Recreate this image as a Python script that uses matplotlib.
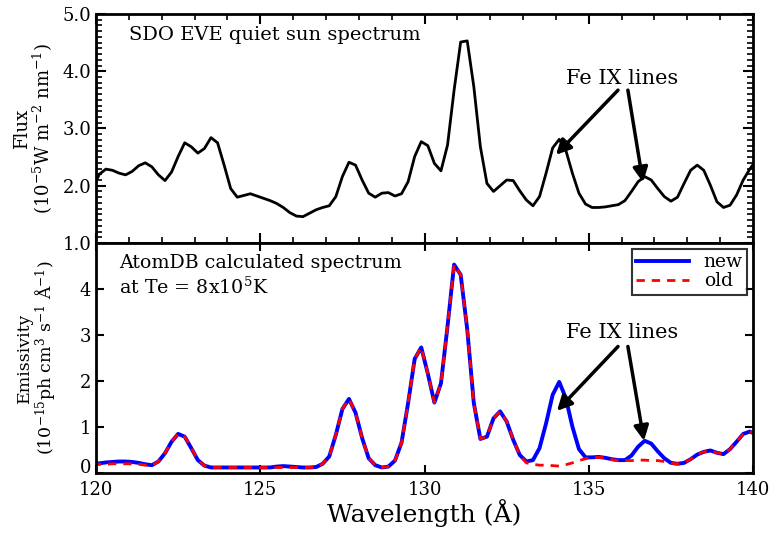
import numpy as np
import matplotlib
matplotlib.use('Agg')
import matplotlib.pyplot as plt
from matplotlib.ticker import MultipleLocator

plt.rcParams['font.family'] = 'DejaVu Serif'
plt.rcParams['mathtext.fontset'] = 'dejavuserif'

# wavelength grid (Angstrom), 0.2 A steps
wave = np.round(np.arange(119.9, 140.15, 0.2), 1)

# SDO EVE quiet sun flux (1e-5 W m-2 nm-1)
flux = [1.95, 2.20, 2.29, 2.27, 2.22, 2.19, 2.25, 2.35, 2.40, 2.33,
        2.19, 2.09, 2.24, 2.51, 2.75, 2.68, 2.57, 2.65, 2.84, 2.75,
        2.36, 1.95, 1.80, 1.83, 1.86, 1.82, 1.78, 1.74, 1.69, 1.62,
        1.53, 1.47, 1.46, 1.52, 1.58, 1.62, 1.65, 1.81, 2.16, 2.41,
        2.36, 2.10, 1.87, 1.80, 1.87, 1.88, 1.82, 1.86, 2.07, 2.51,
        2.77, 2.70, 2.39, 2.26, 2.71, 3.67, 4.51, 4.53, 3.73, 2.68,
        2.04, 1.90, 2.00, 2.10, 2.09, 1.91, 1.75, 1.65, 1.81, 2.22,
        2.66, 2.81, 2.62, 2.22, 1.87, 1.68, 1.62, 1.62, 1.63, 1.65,
        1.67, 1.74, 1.90, 2.07, 2.16, 2.10, 1.95, 1.81, 1.73, 1.80,
        2.04, 2.27, 2.36, 2.27, 2.01, 1.72, 1.62, 1.66, 1.84, 2.10,
        2.29, 2.45]

# AtomDB emissivity (1e-15 ph cm3 s-1 A-1)
emis_new = [0.20, 0.21, 0.23, 0.24, 0.25, 0.25, 0.24, 0.22, 0.19, 0.17,
            0.25, 0.43, 0.68, 0.85, 0.79, 0.54, 0.28, 0.16, 0.12, 0.12,
            0.12, 0.12, 0.12, 0.12, 0.12, 0.12, 0.12, 0.12, 0.14, 0.15,
            0.14, 0.13, 0.12, 0.12, 0.13, 0.20, 0.36, 0.83, 1.39,
            1.61, 1.31, 0.76, 0.32, 0.17, 0.12, 0.14, 0.27, 0.66, 1.52,
            2.48, 2.73, 2.16, 1.53, 1.95, 3.19, 4.53, 4.31, 3.12, 1.52,
            0.74, 0.79, 1.19, 1.34, 1.12, 0.72, 0.39, 0.25, 0.28, 0.54,
            1.08, 1.70, 1.98, 1.63, 1.01, 0.52, 0.34, 0.34, 0.35, 0.33,
            0.30, 0.28, 0.28, 0.38, 0.57, 0.70, 0.64, 0.47, 0.32, 0.22,
            0.20, 0.22, 0.30, 0.40, 0.46, 0.49, 0.44, 0.41, 0.52, 0.68,
            0.85, 0.90, 0.84]
emis_old = [0.18, 0.19, 0.19, 0.20, 0.20, 0.20, 0.20, 0.19, 0.17, 0.16,
            0.25, 0.43, 0.68, 0.85, 0.79, 0.54, 0.28, 0.16, 0.12, 0.12,
            0.12, 0.12, 0.12, 0.12, 0.12, 0.12, 0.12, 0.12, 0.12, 0.12,
            0.12, 0.12, 0.12, 0.12, 0.13, 0.20, 0.36, 0.83, 1.39,
            1.61, 1.31, 0.76, 0.32, 0.17, 0.12, 0.14, 0.27, 0.66, 1.52,
            2.48, 2.73, 2.16, 1.53, 1.95, 3.19, 4.53, 4.31, 3.12, 1.52,
            0.74, 0.79, 1.19, 1.34, 1.12, 0.72, 0.39, 0.22, 0.19, 0.17,
            0.17, 0.16, 0.15, 0.18, 0.22, 0.27, 0.31, 0.34, 0.34, 0.33,
            0.29, 0.27, 0.27, 0.27, 0.28, 0.28, 0.27, 0.27, 0.25, 0.21,
            0.20, 0.22, 0.30, 0.40, 0.46, 0.49, 0.44, 0.41, 0.52, 0.68,
            0.85, 0.90, 0.84]
wave = wave[:len(flux)]

fig = plt.figure(figsize=(7.73, 5.42), dpi=100)
ax1 = fig.add_axes([0.1242, 0.5517, 0.850, 0.4225])
ax2 = fig.add_axes([0.1242, 0.1273, 0.850, 0.4244])

# top panel
ax1.plot(wave, flux, color='black', lw=2)
ax1.set_xlim(120, 140)
ax1.set_ylim(1.0, 5.0)
ax1.set_yticks([1.0, 2.0, 3.0, 4.0, 5.0])
ax1.set_yticklabels(['1.0', '2.0', '3.0', '4.0', '5.0'], fontsize=13)
ax1.yaxis.set_minor_locator(MultipleLocator(0.1))
ax1.xaxis.set_major_locator(MultipleLocator(5))
ax1.xaxis.set_minor_locator(MultipleLocator(1))
ax1.tick_params(which='both', direction='in', top=True, right=True, labelbottom=False)
ax1.tick_params(which='major', length=7, width=1.5)
ax1.tick_params(which='minor', length=4, width=1.2)
ax1.set_ylabel('Flux\n(10$^{-5}$W m$^{-2}$ nm$^{-1}$)', fontsize=13, linespacing=1.0)
ax1.yaxis.set_label_coords(-0.062, 0.5)
ax1.text(121.0, 4.55, 'SDO EVE quiet sun spectrum', fontsize=14)
ax1.text(136.0, 3.88, 'Fe IX lines', fontsize=15, ha='center', va='center')
arrow = dict(arrowstyle='-|>', color='black', lw=2.5, mutation_scale=22, shrinkA=0, shrinkB=0)
ax1.annotate('', xy=(134.0, 2.54), xytext=(135.89, 3.67), arrowprops=arrow)
ax1.annotate('', xy=(136.65, 2.06), xytext=(136.19, 3.67), arrowprops=arrow)

# bottom panel
ax2.plot(wave, emis_new, color='blue', lw=2.8, label='new')
ax2.plot(wave, emis_old, color='red', lw=2, ls=(0, (3, 2.5)), label='old')
ax2.set_xlim(120, 140)
ax2.set_ylim(0, 5)
ax2.set_yticks([0, 1, 2, 3, 4])
ax2.set_xticks([120, 125, 130, 135, 140])
ax2.tick_params(which='both', direction='in', top=True, right=True, labelsize=13)
ax2.tick_params(which='major', length=6, width=1.5)
ax2.tick_params(axis='x', pad=6)
ax2.get_yticklabels()[0].set_va('baseline')
ax2.set_xlabel('Wavelength (Å)', fontsize=18, labelpad=0)
ax2.set_ylabel('Emissivity\n(10$^{-15}$ph cm$^{3}$ s$^{-1}$ Å$^{-1}$)', fontsize=12.5, linespacing=1.0)
ax2.yaxis.set_label_coords(-0.058, 0.5)
ax2.text(120.7, 4.45, 'AtomDB calculated spectrum', fontsize=13.7)
ax2.text(120.7, 3.9, 'at Te = 8x10$^{5}$K', fontsize=13.7)
ax2.text(136.0, 3.05, 'Fe IX lines', fontsize=15, ha='center', va='center')
ax2.annotate('', xy=(134.03, 1.35), xytext=(135.89, 2.75), arrowprops=arrow)
ax2.annotate('', xy=(136.68, 0.70), xytext=(136.19, 2.75), arrowprops=arrow)
leg = ax2.legend(loc='upper right', fontsize=13.5, frameon=True, fancybox=False,
                 borderpad=0.25, handlelength=2.8, labelspacing=0.05, borderaxespad=0.3)
leg.get_frame().set_edgecolor('black')
leg.get_frame().set_linewidth(1.5)

for ax in (ax1, ax2):
    for s in ax.spines.values():
        s.set_linewidth(2)

fig.savefig('out.png', dpi=100)
